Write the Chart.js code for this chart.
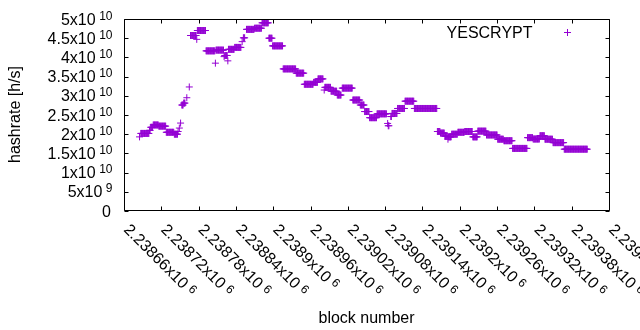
<!DOCTYPE html>
<html>
<head>
<meta charset="utf-8">
<script src="https://cdn.jsdelivr.net/npm/chart.js@4.4.0/dist/chart.umd.min.js"></script>
<style>
html,body{margin:0;padding:0;background:#fff}
#wrap{width:640px;height:330px}
</style>
</head>
<body>
<div id="wrap"><canvas id="c" width="640" height="330"></canvas></div>
<script>
const runStart = [2238685,2238687,2238701,2238703,2238707,2238716,2238728,2238741,2238747,2238749,
  2238751,2238753,2238756,2238761,2238765,2238767,2238777,2238778,2238792,2238807,
  2238808,2238821,2238822,2238827,2238828,2238838,2238850,2238852,2238857,2238870,
  2238882,2238893,2238899,2238916,2238937,2238950,2238965,2238972,2238982,2238983,
  2238993,2239003,2239011,2239028,2239040,2239047,2239055,2239067,2239084,2239085,
  2239089,2239091,2239100,2239112,2239127,2239164,2239169,2239176,2239181,2239182,
  2239187,2239197,2239208,2239221,2239229,2239243,2239261,2239271,2239285,2239309,
  2239318,2239329,2239337,2239350,2239368];
const runEnd = [2238685,2238700,2238702,2238706,2238715,2238727,2238740,2238746,2238747,2238749,
  2238751,2238755,2238758,2238761,2238765,2238776,2238777,2238791,2238806,2238807,
  2238820,2238821,2238826,2238827,2238837,2238848,2238850,2238854,2238869,2238881,
  2238892,2238898,2238915,2238936,2238949,2238964,2238971,2238980,2238982,2238992,
  2239002,2239009,2239027,2239039,2239046,2239054,2239066,2239082,2239084,2239086,
  2239090,2239099,2239111,2239126,2239163,2239168,2239175,2239180,2239181,2239186,
  2239196,2239207,2239220,2239228,2239242,2239260,2239270,2239284,2239308,2239317,
  2239328,2239336,2239349,2239367,2239405];
// hashrate in units of 1e10 h/s
const runRate = [1.93,2.02,2.10,2.18,2.24,2.21,2.05,2.00,2.07,2.16,
  2.29,2.76,2.81,2.95,3.23,4.57,4.47,4.70,4.17,3.85,
  4.19,4.02,4.05,3.91,4.21,4.26,4.41,4.51,4.73,4.76,
  4.90,4.50,4.30,3.70,3.59,3.30,3.35,3.44,3.15,3.22,
  3.12,3.02,3.20,2.89,2.76,2.59,2.43,2.53,2.28,2.22,
  2.46,2.54,2.67,2.86,2.67,2.07,2.03,1.95,1.87,1.93,
  2.00,2.05,2.07,1.93,2.08,1.98,1.87,1.83,1.63,1.91,
  1.875,1.96,1.87,1.78,1.61];

const xTicks = [2238660,2238720,2238780,2238840,2238900,2238960,2239020,2239080,
  2239140,2239200,2239260,2239320,2239380,2239440];
const yTicks = [0,5e9,1e10,1.5e10,2e10,2.5e10,3e10,3.5e10,4e10,4.5e10,5e10];

const points = [];
runStart.forEach((s, i) => {
  for (let b = s; b <= runEnd[i]; b++) points.push({x: b, y: runRate[i] * 1e10});
});

const FONT = '"Liberation Sans", Arial, sans-serif';

function sciParts(v){
  if (v === 0) return ['0', ''];
  const e = Math.floor(Math.log10(v) + 1e-9);
  const m = parseFloat((v / Math.pow(10, e)).toPrecision(8));
  return [m + 'x10', String(e)];
}

// gnuplot-like frame: border, mirrored inward ticks, x10^n labels, axis titles, key
const gnuplotFrame = {
  id: 'gnuplotFrame',
  afterDraw(chart){
    const ctx = chart.ctx, a = chart.chartArea;
    const xs = chart.scales.x, ys = chart.scales.y;
    const L = a.left + 0.5, R = a.right + 0.5, T = a.top + 0.5, B = a.bottom - 0.5;
    const tl = 4;
    ctx.save();
    ctx.strokeStyle = '#000';
    ctx.lineWidth = 1;
    ctx.beginPath();
    ctx.rect(L, T, R - L, B - T);
    xTicks.forEach(v => {
      const px = Math.round(xs.getPixelForValue(v)) + 0.5;
      ctx.moveTo(px, B); ctx.lineTo(px, B - tl);
      ctx.moveTo(px, T); ctx.lineTo(px, T + tl);
    });
    yTicks.forEach(v => {
      const py = Math.round(ys.getPixelForValue(v)) + 0.5;
      ctx.moveTo(L, py); ctx.lineTo(L + tl, py);
      ctx.moveTo(R, py); ctx.lineTo(R - tl, py);
    });
    ctx.stroke();

    ctx.fillStyle = '#000';
    // y tick labels
    yTicks.forEach(v => {
      const py = ys.getPixelForValue(v);
      const [m, e] = sciParts(v);
      ctx.textBaseline = 'alphabetic';
      if (!e) {
        ctx.font = '16px ' + FONT; ctx.textAlign = 'right';
        ctx.fillText(m, 111, py + 5.5);
        return;
      }
      ctx.font = '12px ' + FONT; ctx.textAlign = 'right';
      const w2 = ctx.measureText(e).width;
      ctx.fillText(e, 112.5, py + 0.5);
      ctx.font = '16px ' + FONT;
      ctx.fillText(m, 112.5 - w2 - 3.5, py + 5.5);
    });
    // x tick labels, rotated 45 degrees clockwise
    xTicks.forEach(v => {
      const px = xs.getPixelForValue(v);
      const [m, e] = sciParts(v);
      ctx.save();
      ctx.translate(px - 1, 230.5);
      ctx.rotate(Math.PI / 4);
      ctx.textAlign = 'left'; ctx.textBaseline = 'alphabetic';
      ctx.font = '16px ' + FONT;
      const w1 = ctx.measureText(m).width;
      ctx.fillText(m, 0, 0);
      ctx.font = '12px ' + FONT;
      ctx.fillText(e, w1 + 4, -4);
      ctx.restore();
    });
    // axis titles
    ctx.font = '16px ' + FONT;
    ctx.textAlign = 'center'; ctx.textBaseline = 'alphabetic';
    ctx.fillText('block number', (a.left + a.right) / 2, 323);
    ctx.save();
    ctx.translate(20, (a.top + a.bottom) / 2 - 0.5);
    ctx.rotate(-Math.PI / 2);
    ctx.fillText('hashrate [h/s]', 0, 0);
    ctx.restore();
    // key
    const ds = chart.data.datasets[0];
    ctx.textAlign = 'right';
    ctx.fillText(ds.label, 532.5, 37.7);
    ctx.strokeStyle = ds.pointBorderColor;
    ctx.beginPath();
    ctx.moveTo(564, 32.5); ctx.lineTo(571, 32.5);
    ctx.moveTo(567.5, 29); ctx.lineTo(567.5, 36);
    ctx.stroke();
    ctx.restore();
  }
};

new Chart(document.getElementById('c'), {
  type: 'scatter',
  data: {datasets: [{
    label: 'YESCRYPT',
    data: points,
    pointStyle: 'cross',
    pointRadius: 3.5,
    pointHoverRadius: 3.5,
    pointBorderWidth: 1,
    pointBorderColor: '#9400d3',
    pointBackgroundColor: '#9400d3',
    clip: 4
  }]},
  options: {
    responsive: false,
    animation: false,
    devicePixelRatio: 1,
    layout: {padding: {left: 124, right: 31, top: 19, bottom: 119}},
    scales: {
      x: {type: 'linear', min: xTicks[0], max: xTicks[xTicks.length - 1], display: false},
      y: {type: 'linear', min: 0, max: 5e10, display: false}
    },
    plugins: {legend: {display: false}, tooltip: {enabled: false}}
  },
  plugins: [gnuplotFrame]
});
</script>
</body>
</html>
